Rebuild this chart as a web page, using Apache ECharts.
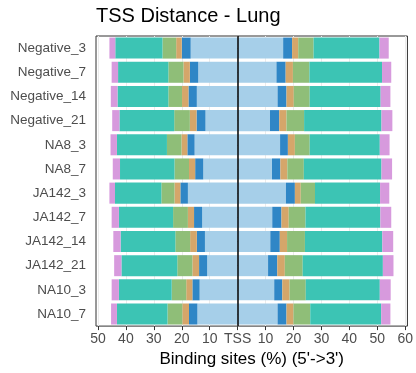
<!DOCTYPE html>
<html>
<head>
<meta charset="utf-8">
<script src="https://cdn.jsdelivr.net/npm/echarts@6/dist/echarts.min.js"></script>
<style>
html,body{margin:0;padding:0;background:#fff;}
#chart{width:416px;height:373px;}
</style>
</head>
<body>
<div id="chart"></div>
<script>
// Categories (top to bottom)
const categories = ["Negative_3","Negative_7","Negative_14","Negative_21","NA8_3","NA8_7","JA142_3","JA142_7","JA142_14","JA142_21","NA10_3","NA10_7"];
const features = ["0-1kb","1-3kb","3-5kb","5-10kb","10-100kb",">100kb"];
const featureColors = ["#a6cfe9","#2f86c6","#d5a66a","#8fbe78","#3cc4b4","#d79add"];

// Upstream (5', left side) percentages
const up_0_1kb    = [16.8,14.1,14.6,11.5,15.4,12.3,17.8,12.7,11.7,10.9,13.6,14.4];
const up_1_3kb    = [3.2,3.0,3.0,3.2,2.6,2.9,2.7,2.9,2.9,2.9,2.6,3.0];
const up_3_5kb    = [2.0,2.3,2.3,2.4,2.1,2.2,2.1,2.2,2.4,2.4,2.2,2.4];
const up_5_10kb   = [4.9,5.4,4.9,5.6,5.2,5.2,4.7,5.3,5.3,5.4,5.2,5.3];
const up_10_100kb = [16.9,18.0,18.2,19.6,17.9,19.5,16.6,19.4,19.6,20.0,18.9,18.1];
const up_100kb    = [2.1,2.3,2.4,2.6,2.3,2.6,2.0,2.6,2.6,2.6,2.6,2.1];

// Downstream (3', right side) percentages
const dn_0_1kb    = [16.3,13.9,14.3,11.6,15.2,12.3,17.3,12.4,11.7,10.9,13.1,14.3];
const dn_1_3kb    = [3.2,3.3,3.2,3.3,2.8,3.0,3.2,3.3,3.4,3.3,2.9,3.2];
const dn_3_5kb    = [2.2,2.6,2.6,2.6,2.5,2.5,2.1,2.6,2.6,2.7,2.6,2.5];
const dn_5_10kb   = [5.5,5.9,5.7,6.3,5.3,5.9,5.1,6.0,6.4,6.4,5.8,6.0];
const dn_10_100kb = [23.6,26.0,25.4,27.7,25.1,27.8,23.3,26.8,27.7,28.7,26.5,25.4];
const dn_100kb    = [3.3,3.3,3.5,3.9,3.5,3.8,3.3,3.9,3.9,3.8,3.9,3.3];

const tickValues = [-50,-40,-30,-20,-10,0,10,20,30,40,50,60];

const upSets = [up_0_1kb, up_1_3kb, up_3_5kb, up_5_10kb, up_10_100kb, up_100kb];
const dnSets = [dn_0_1kb, dn_1_3kb, dn_3_5kb, dn_5_10kb, dn_10_100kb, dn_100kb];

const FONT = 'Liberation Sans, Arial, sans-serif';
const series = [];
features.forEach((f, i) => {
  series.push({
    name: f, type: 'bar', stack: 'tss', barWidth: '87%',
    itemStyle: {color: featureColors[i]},
    data: upSets[i].map(v => -v),
    silent: true
  });
});
features.forEach((f, i) => {
  series.push({
    name: f, type: 'bar', stack: 'tss', barWidth: '87%',
    itemStyle: {color: featureColors[i]},
    data: dnSets[i].slice(),
    silent: true,
    markLine: i === 0 ? {
      silent: true, symbol: 'none', label: {show: false},
      lineStyle: {color: '#000', width: 1.5, type: 'solid'},
      data: [{xAxis: 0}], z: 10
    } : undefined
  });
});

const chart = echarts.init(document.getElementById('chart'), null, {renderer: 'canvas'});
chart.setOption({
  animation: false,
  backgroundColor: '#fff',
  textStyle: {fontFamily: FONT},
  title: {
    text: 'TSS Distance - Lung', left: 91, top: 1,
    textStyle: {fontSize: 20, fontWeight: 'normal', color: '#000', fontFamily: FONT}
  },
  grid: {left: 96, right: 6, top: 36, bottom: 46, show: true, borderColor: '#333', borderWidth: 1, backgroundColor: 'transparent'},
  xAxis: {
    type: 'value', min: -50.7, max: 60.8,
    name: "Binding sites (%) (5'->3')", nameLocation: 'middle', nameGap: 17,
    nameTextStyle: {fontSize: 17, color: '#000', fontFamily: FONT},
    axisLine: {show: false},
    axisTick: {show: true, length: 4, lineStyle: {color: '#333'}, customValues: tickValues},
    axisLabel: {
      customValues: tickValues, fontSize: 14, color: '#4d4d4d', margin: 6, fontFamily: FONT,
      formatter: v => (Math.abs(v) < 1e-9 ? 'TSS' : String(Math.abs(Math.round(v))))
    },
    splitLine: {show: true, lineStyle: {color: '#ebebeb', width: 1}}
  },
  yAxis: {
    type: 'category', data: categories, inverse: true,
    axisLine: {show: false},
    axisTick: {show: true, length: 4, alignWithLabel: true, lineStyle: {color: '#333'}},
    axisLabel: {fontSize: 13.5, color: '#4d4d4d', margin: 10, fontFamily: FONT},
    splitLine: {show: false}
  },
  series: series
});
</script>
</body>
</html>
